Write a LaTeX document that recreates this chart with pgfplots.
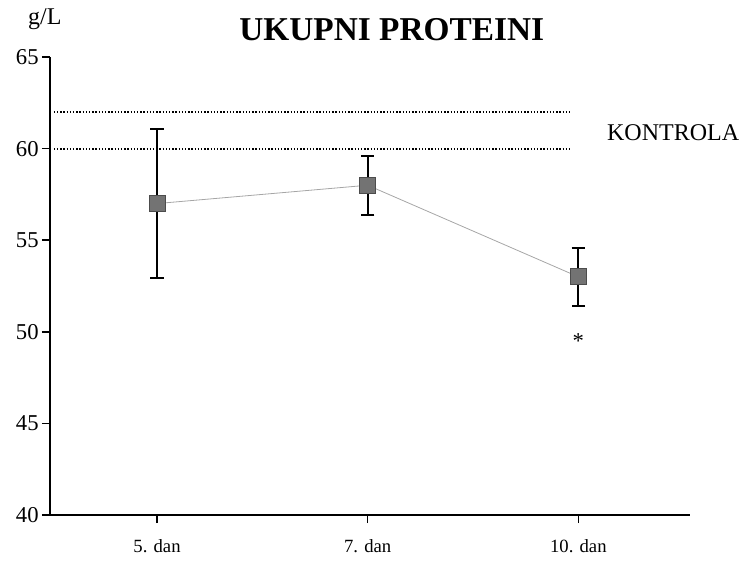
\documentclass[border=0pt]{standalone}
\usepackage{fontspec}
\setmainfont{Liberation Serif}
\usepackage{pgfplots}
\pgfplotsset{compat=1.18}

\begin{document}
\begin{tikzpicture}
% frame of the whole picture, 1px = 0.75pt, axis box corner at the origin
\useasboundingbox (-37.5pt,-39pt) rectangle (521.25pt,386.25pt);
\begin{axis}[
  scale only axis,
  width=480pt, height=343.5pt,
  at={(0,0)}, anchor=south west,
  xmin=-0.508, xmax=2.53,
  ymin=40, ymax=65,
  axis lines=left,
  axis line style={-, line width=1.3pt},
  xtick={0,1,2},
  xticklabels={5. dan, 7. dan, 10. dan},
  ytick={40,45,50,55,60,65},
  tick align=outside,
  major tick length=6pt,
  tick style={black, line width=1.1pt},
  x tick label style={font=\fontsize{14}{16}\selectfont, yshift=-9pt},
  y tick label style={font=\fontsize{17}{19}\selectfont, xshift=1pt},
  /pgf/number format/assume math mode=true,
  clip=false,
]
\addplot[gray!70, line width=0.6pt,
  mark=square*, mark size=6pt,
  mark options={fill=black!55, draw=black!70, line width=0.6pt},
  error bars/.cd, y dir=both, y explicit,
  error bar style={black, line width=1.5pt},
  error mark options={rotate=90, mark size=5pt, line width=1.5pt, black}]
  coordinates {
  (0, 57) +- (0, 4.05)
  (1, 58) +- (0, 1.6)
  (2, 53) +- (0, 1.6)
};
% control range
\draw[black, line width=1.6pt, dash pattern=on 1pt off 1.4pt]
  (axis cs:-0.49,62) -- (axis cs:1.97,62);
\draw[black, line width=1.6pt, dash pattern=on 1pt off 1.4pt]
  (axis cs:-0.49,60) -- (axis cs:1.97,60);
\node[font=\fontsize{18}{20}\selectfont] at (axis cs:2.45,60.85) {KONTROLA};
\node[font=\fontsize{17}{19}\selectfont] at (axis cs:2,49.5) {*};
\node[font=\bfseries\fontsize{25}{28}\selectfont] at (rel axis cs:0.534,1.059) {UKUPNI PROTEINI};
\node[font=\fontsize{18}{20}\selectfont] at (rel axis cs:-0.008,1.083) {g/L};
\end{axis}
\end{tikzpicture}
\end{document}
